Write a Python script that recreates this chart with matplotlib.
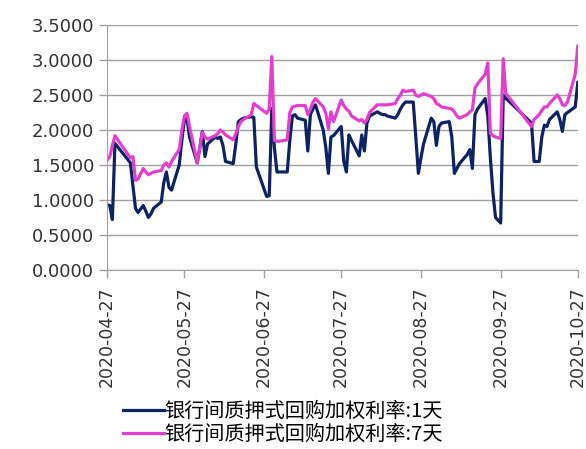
import matplotlib
matplotlib.use("Agg")
import matplotlib.pyplot as plt
import pandas as pd

plt.rcParams['font.family'] = ['DejaVu Sans', 'Noto Sans CJK SC']

# trading days (interbank), grouped by month
days_apr = [27, 28, 29, 30]
days_may = [6, 7, 8, 9, 11, 12, 13, 14, 15, 18, 19, 20, 21, 22, 25, 26, 27, 28, 29]
days_jun = [1, 2, 3, 4, 5, 8, 9, 10, 11, 12, 15, 16, 17, 18, 19, 22, 23, 24, 28, 29, 30]
days_jul = [1, 2, 3, 6, 7, 8, 9, 10, 13, 14, 15, 16, 17, 20, 21, 22, 23, 24, 27, 28, 29, 30, 31]
days_aug = [3, 4, 5, 6, 7, 10, 11, 12, 13, 14, 17, 18, 19, 20, 21, 24, 25, 26, 27, 28, 31]
days_sep = [1, 2, 3, 4, 7, 8, 9, 10, 11, 14, 15, 16, 17, 18, 21, 22, 23, 24, 25, 27, 28, 29, 30]
days_oct = [9, 10, 12, 13, 14, 15, 16, 19, 20, 21, 22, 23, 26, 27]

rate_1d = [0.93, 0.92, 0.72, 1.81,
           1.53, 1.20, 0.88, 0.82, 0.92, 0.84, 0.75, 0.80, 0.88, 0.97, 1.25, 1.40, 1.18, 1.14,
           1.50, 1.85, 2.14, 2.17, 1.90,
           1.53, 1.75, 1.98, 1.62, 1.80, 1.90, 1.88, 1.90, 1.78, 1.55, 1.52, 1.80, 2.12, 2.15,
           2.17, 2.19, 2.18, 1.47, 1.05, 1.06, 2.31,
           1.75, 1.40, 1.40, 1.40, 1.85, 2.20, 2.22, 2.17, 2.14, 1.70, 2.22, 2.30, 2.36, 2.00,
           1.75, 1.38, 1.90, 1.92, 2.05, 1.55, 1.40, 1.93, 1.85,
           1.63, 1.93, 1.70, 2.10, 2.20, 2.26, 2.24, 2.22, 2.22, 2.20, 2.17, 2.22, 2.30, 2.36,
           2.40, 2.40, 1.90, 1.38, 1.60, 1.80, 2.17,
           2.12, 1.78, 2.05, 2.10, 2.12, 1.90, 1.38, 1.45, 1.52, 1.65, 1.72, 1.45, 2.22, 2.30,
           2.45, 2.20, 1.60, 1.10, 0.75, 0.67, 2.50, 2.45, 2.42,
           2.10, 1.55, 1.55, 1.90, 2.07, 2.05, 2.15, 2.26, 2.15, 1.98, 2.22, 2.25, 2.33, 2.68]

rate_7d = [1.57, 1.62, 1.78, 1.92,
           1.60, 1.62, 1.28, 1.30, 1.45, 1.40, 1.36, 1.38, 1.40, 1.42, 1.50, 1.53, 1.47, 1.55,
           1.72, 2.00, 2.20, 2.24, 2.05,
           1.53, 1.75, 1.97, 1.90, 1.87, 1.92, 1.95, 2.00, 1.97, 1.93, 1.86, 1.95, 2.05, 2.12,
           2.15, 2.22, 2.38, 2.35, 2.24, 2.30, 3.05,
           1.85, 1.84, 1.84, 1.86, 2.25, 2.33, 2.34, 2.35, 2.35, 2.22, 2.30, 2.40, 2.45, 2.33,
           2.24, 2.02, 2.26, 2.12, 2.43, 2.35, 2.30, 2.27, 2.20,
           2.13, 2.15, 2.10, 2.15, 2.25, 2.36, 2.36, 2.36, 2.36, 2.36, 2.38, 2.45, 2.50, 2.57,
           2.55, 2.57, 2.50, 2.48, 2.50, 2.52, 2.48,
           2.45, 2.38, 2.36, 2.33, 2.31, 2.30, 2.26, 2.20, 2.17, 2.22, 2.26, 2.29, 2.60, 2.66,
           2.80, 2.96, 1.95, 1.92, 1.90, 1.88, 3.02, 2.52, 2.48,
           2.05, 2.15, 2.22, 2.28, 2.33, 2.33, 2.38, 2.50, 2.45, 2.36, 2.35, 2.40, 2.80, 3.20]

tick_labels = ['2020-04-27', '2020-05-27', '2020-06-27', '2020-07-27',
               '2020-08-27', '2020-09-27', '2020-10-27']
labels = ['银行间质押式回购加权利率:1天', '银行间质押式回购加权利率:7天']

months = [(4, days_apr), (5, days_may), (6, days_jun), (7, days_jul),
          (8, days_aug), (9, days_sep), (10, days_oct)]
dates = pd.to_datetime([f'2020-{m:02d}-{d:02d}' for m, ds in months for d in ds])

fig = plt.figure(figsize=(5.86, 4.49), dpi=100)
ax = fig.add_axes([0.183, 0.399, 0.803, 0.545])

ax.plot(dates, rate_1d, color='#0c2262', lw=2.3, label=labels[0])
ax.plot(dates, rate_7d, color='#e23fcf', lw=2.3, label=labels[1])

ticks = pd.to_datetime(tick_labels)
ax.set_xticks(ticks)
ax.set_xticklabels(tick_labels, rotation=90, fontsize=12.5, color='#333333')
ax.set_xlim(ticks[0], ticks[-1])

ax.set_ylim(0, 3.5)
ax.set_yticks([0, 0.5, 1, 1.5, 2, 2.5, 3, 3.5])
ax.set_yticklabels([f'{v:.4f}' for v in ax.get_yticks()], fontsize=13, color='#333333')
ax.yaxis.grid(True, color='#a0a0a0', lw=1)
ax.set_axisbelow(True)

for s in ['top', 'right']:
    ax.spines[s].set_visible(False)
ax.spines['left'].set_color('#a0a0a0')
ax.spines['bottom'].set_color('#a0a0a0')
ax.tick_params(axis='both', color='#a0a0a0', length=6, width=1)
ax.tick_params(axis='x', pad=6)

fig.legend(loc='center left', bbox_to_anchor=(0.19, 0.058), ncol=1, frameon=False,
           handlelength=2.0, handletextpad=0.05, labelspacing=0.1, borderpad=0.1,
           prop={'family': ['Noto Sans CJK SC', 'DejaVu Sans'], 'size': 14.5})

fig.savefig('out.png', dpi=100)
